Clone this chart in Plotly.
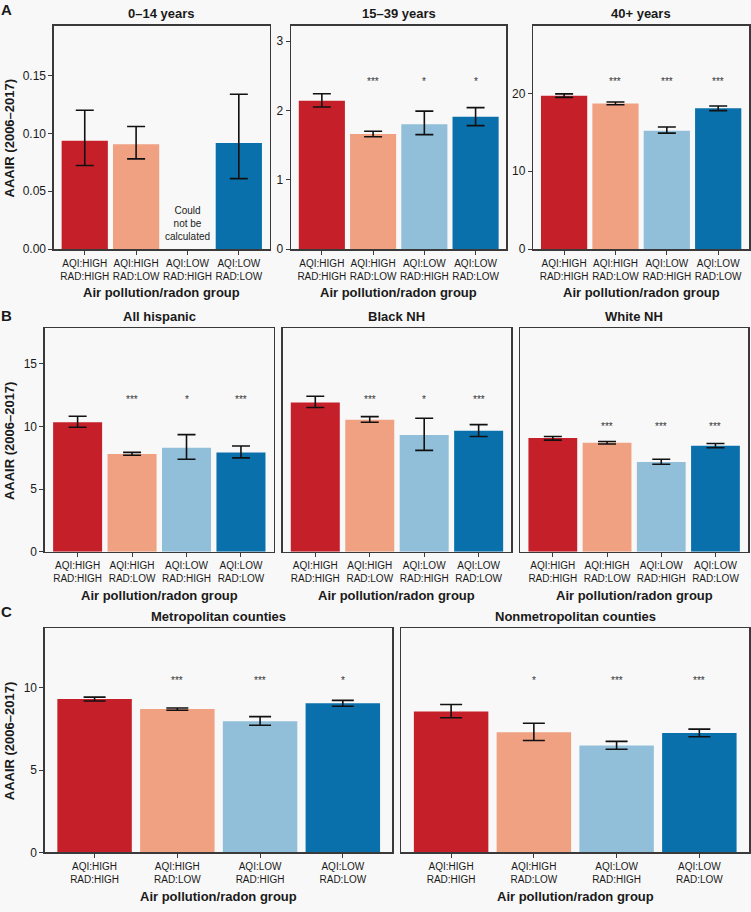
import plotly.graph_objects as go

W, H = 751, 912

groups = ["AQI:HIGH<br>RAD:HIGH", "AQI:HIGH<br>RAD:LOW", "AQI:LOW<br>RAD:HIGH", "AQI:LOW<br>RAD:LOW"]
colors = ["#C5202A", "#EFA182", "#91BFDA", "#0A70AC"]

# Panel A: age groups
age_0_14 = [0.0937, 0.0906, None, 0.0917]
age_0_14_lo = [0.0723, 0.078, None, 0.0609]
age_0_14_hi = [0.120, 0.106, None, 0.1338]
age_0_14_sig = ["", "", "", ""]

age_15_39 = [2.14, 1.66, 1.80, 1.91]
age_15_39_lo = [2.05, 1.62, 1.65, 1.78]
age_15_39_hi = [2.24, 1.70, 1.99, 2.04]
age_15_39_sig = ["", "***", "*", "*"]

age_40 = [19.7, 18.7, 15.2, 18.1]
age_40_lo = [19.5, 18.55, 14.9, 17.8]
age_40_hi = [19.95, 18.9, 15.7, 18.4]
age_40_sig = ["", "***", "***", "***"]

# Panel B: race/ethnicity
hisp = [10.32, 7.80, 8.29, 7.92]
hisp_lo = [9.93, 7.69, 7.37, 7.48]
hisp_hi = [10.80, 7.92, 9.34, 8.43]
hisp_sig = ["", "***", "*", "***"]

black = [11.9, 10.53, 9.3, 9.64]
black_lo = [11.5, 10.32, 8.08, 9.19]
black_hi = [12.4, 10.77, 10.64, 10.13]
black_sig = ["", "***", "*", "***"]

white = [9.06, 8.69, 7.16, 8.45]
white_lo = [8.90, 8.59, 6.97, 8.29]
white_hi = [9.19, 8.79, 7.37, 8.63]
white_sig = ["", "***", "***", "***"]

# Panel C: metro status
metro = [9.32, 8.72, 7.97, 9.06]
metro_lo = [9.20, 8.64, 7.73, 8.88]
metro_hi = [9.44, 8.78, 8.25, 9.24]
metro_sig = ["", "***", "***", "*"]

nonmetro = [8.57, 7.30, 6.49, 7.25]
nonmetro_lo = [8.18, 6.80, 6.27, 7.03]
nonmetro_hi = [8.99, 7.85, 6.75, 7.49]
nonmetro_sig = ["", "*", "***", "***"]

star_y = [None, 2.44, 21.8, 12.3, 12.3, 10.16, 10.55, 10.55]

titles = ["0–14 years", "15–39 years", "40+ years", "All hispanic", "Black NH", "White NH",
          "Metropolitan counties", "Nonmetropolitan counties"]

# layout geometry (pixels)
rowsA = (26, 251)
rowsB = (331, 556)
rowsC = (633, 859)
panels = [
    dict(x=(54, 270), y=rowsA, vals=age_0_14, lo=age_0_14_lo, hi=age_0_14_hi, sig=age_0_14_sig,
         yr=[0, 0.193], tv=[0, 0.05, 0.10, 0.15], fmt=".2f", ylab=True, cap=9),
    dict(x=(291.5, 507), y=rowsA, vals=age_15_39, lo=age_15_39_lo, hi=age_15_39_hi, sig=age_15_39_sig,
         yr=[0, 3.22], tv=[0, 1, 2, 3], fmt="d", ylab=True, cap=9),
    dict(x=(534, 750), y=rowsA, vals=age_40, lo=age_40_lo, hi=age_40_hi, sig=age_40_sig,
         yr=[0, 28.7], tv=[0, 10, 20], fmt="d", ylab=True, cap=9),
    dict(x=(45, 274), y=rowsB, vals=hisp, lo=hisp_lo, hi=hisp_hi, sig=hisp_sig,
         yr=[0, 17.8], tv=[0, 5, 10, 15], fmt="d", ylab=True, cap=9),
    dict(x=(283, 512), y=rowsB, vals=black, lo=black_lo, hi=black_hi, sig=black_sig,
         yr=[0, 17.8], tv=[0, 5, 10, 15], fmt="d", ylab=False, cap=9),
    dict(x=(521, 749), y=rowsB, vals=white, lo=white_lo, hi=white_hi, sig=white_sig,
         yr=[0, 17.8], tv=[0, 5, 10, 15], fmt="d", ylab=False, cap=9),
    dict(x=(45, 393), y=rowsC, vals=metro, lo=metro_lo, hi=metro_hi, sig=metro_sig,
         yr=[0, 13.63], tv=[0, 5, 10], fmt="d", ylab=True, cap=11),
    dict(x=(402, 750), y=rowsC, vals=nonmetro, lo=nonmetro_lo, hi=nonmetro_hi, sig=nonmetro_sig,
         yr=[0, 13.63], tv=[0, 5, 10], fmt="d", ylab=False, cap=11),
]

FONT = "Liberation Sans, Arial, Helvetica, sans-serif"
BG = "#F8F8F8"
LINE = "#3A3A3A"
TXT = "#1A1A1A"

def px_x(p):
    return p / W

def px_y(p):
    return 1 - p / H

fig = go.Figure()
annotations = []
layout = {}

for i, p in enumerate(panels):
    n = i + 1
    xa = "x" if n == 1 else f"x{n}"
    ya = "y" if n == 1 else f"y{n}"
    err_plus = [None if v is None else h - v for v, h in zip(p["vals"], p["hi"])]
    err_minus = [None if v is None else v - l for v, l in zip(p["vals"], p["lo"])]
    fig.add_trace(go.Bar(
        x=groups, y=p["vals"], width=0.9,
        marker=dict(color=colors, line=dict(width=0)),
        error_y=dict(type="data", array=err_plus, arrayminus=err_minus, symmetric=False,
                     color="#111111", thickness=1.6, width=p["cap"]),
        xaxis=xa, yaxis=ya, showlegend=False, hoverinfo="skip",
    ))
    if star_y[i] is not None:
        for g, s in zip(groups, p["sig"]):
            if s:
                annotations.append(dict(x=g, y=star_y[i], xref=xa, yref=ya, text=s,
                                        showarrow=False, xanchor="center", yanchor="middle",
                                        yshift=-2,
                                        font=dict(family=FONT, size=10, color="#333333")))
    xd = [px_x(p["x"][0]), px_x(p["x"][1])]
    yd = [px_y(p["y"][1]), px_y(p["y"][0])]
    layout["xaxis" if n == 1 else f"xaxis{n}"] = dict(
        domain=xd, anchor=ya, type="category", categoryorder="array", categoryarray=groups,
        range=[-0.6, 3.6], showline=True, mirror=True, linecolor=LINE, linewidth=1.5,
        ticks="outside", ticklen=4, tickwidth=1, tickcolor=LINE,
        tickfont=dict(family=FONT, size=10, color=TXT), showgrid=False, zeroline=False,
        fixedrange=True,
    )
    layout["yaxis" if n == 1 else f"yaxis{n}"] = dict(
        domain=yd, anchor=xa, range=p["yr"], tickvals=p["tv"], tickformat=p["fmt"],
        showline=True, mirror=True, linecolor=LINE, linewidth=1.5,
        ticks="outside" if p["ylab"] else "", ticklen=4, tickwidth=1, tickcolor=LINE,
        showticklabels=p["ylab"],
        tickfont=dict(family=FONT, size=12, color=TXT), showgrid=False, zeroline=False,
        fixedrange=True,
    )
    xc = (p["x"][0] + p["x"][1]) / 2
    # panel title
    annotations.append(dict(x=px_x(xc), y=px_y(p["y"][0] - 12), xref="paper", yref="paper",
                            text=f"<b>{titles[i]}</b>", showarrow=False, xanchor="center",
                            yanchor="middle", font=dict(family=FONT, size=13, color=TXT)))
    # x-axis title
    annotations.append(dict(x=px_x(xc), y=px_y(p["y"][1] + 44), xref="paper", yref="paper",
                            text="<b>Air pollution/radon group</b>", showarrow=False,
                            xanchor="center", yanchor="middle",
                            font=dict(family=FONT, size=13, color=TXT)))
    if p["ylab"] and i in (0, 3, 6):
        annotations.append(dict(x=px_x(9), y=px_y((p["y"][0] + p["y"][1]) / 2), xref="paper",
                                yref="paper", text="<b>AAAIR (2006–2017)</b>", textangle=-90,
                                showarrow=False, xanchor="center", yanchor="middle",
                                font=dict(family=FONT, size=13, color=TXT)))

# "Could not be calculated" note in 0-14 panel
annotations.append(dict(x=groups[2], y=0.0223, xref="x", yref="y",
                        text="Could<br>not be<br>calculated", showarrow=False,
                        xanchor="center", yanchor="middle",
                        font=dict(family=FONT, size=10, color="#222222")))

# panel letters
for letter, yy in (("A", 10), ("B", 318), ("C", 616)):
    annotations.append(dict(x=px_x(7), y=px_y(yy), xref="paper", yref="paper",
                            text=f"<b>{letter}</b>", showarrow=False, xanchor="center",
                            yanchor="middle", font=dict(family=FONT, size=15, color=TXT)))

fig.update_layout(
    width=W, height=H, autosize=False,
    margin=dict(l=0, r=0, t=0, b=0),
    paper_bgcolor=BG, plot_bgcolor=BG,
    annotations=annotations, bargap=0.1,
    **layout,
)

fig.write_html(
    "out.html",
    config={"displayModeBar": False, "staticPlot": True},
    post_script="document.body.style.margin='0';document.body.style.overflow='hidden';",
)
